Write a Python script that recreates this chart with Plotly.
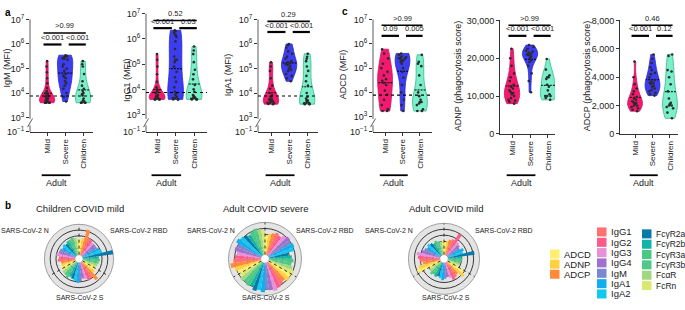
import numpy as np
import plotly.graph_objects as go

W, H = 685, 310
FONT = "Arial, 'Liberation Sans', sans-serif"

# ---------------- data: panels a and c ----------------
groups = ["Mild", "Severe", "Children"]
fill_colors = ["#F2196F", "#3C3CF0", "#7AEFC9"]
line_colors = ["#D0105A", "#2A2AC8", "#38B88C"]

igm_mild = [2e5, 1.2e5, 7e4, 4e4, 2.5e4, 1.6e4, 1.2e4, 1e4, 9e3, 8e3, 7.5e3, 7e3, 6.5e3, 6e3,
            5.5e3, 5e3, 5e3, 4.5e3, 4.5e3, 4.2e3, 4e3, 4e3, 4e3, 4e3, 4e3]
igm_severe = [3.5e5, 3.2e5, 3e5, 2.8e5, 2.6e5, 2.5e5, 2.3e5, 1.5e5, 1.2e5, 1e5, 8e4, 6e4, 5e4,
              4.5e4, 4e4, 3e4, 2.5e4, 2e4, 1.5e4, 1e4, 7e3, 4.5e3]
igm_children = [2e5, 1.5e5, 1.2e5, 6e4, 3e4, 2e4, 1.5e4, 1.2e4, 1e4, 9e3, 8e3, 6e3, 5e3, 4.5e3,
                4.2e3, 4e3, 4e3, 4e3, 4e3]

igg1_mild = [2.5e5, 1.5e5, 8e4, 4e4, 2e4, 1.2e4, 1e4, 9e3, 8e3, 7e3, 6e3, 5.5e3, 5e3, 5e3, 4.8e3,
             4.5e3, 4.5e3, 4.2e3, 4.2e3, 4e3, 4e3, 4e3, 4e3]
igg1_severe = [2.2e6, 2e6, 1.8e6, 1.5e6, 1.4e6, 1.2e6, 8e5, 4e5, 2e5, 1.5e5, 1.5e5, 1.2e5, 8e4,
               5e4, 3e4, 2e4, 1.2e4, 8e3, 7e3, 6e3, 5e3, 4.5e3, 4.5e3, 4e3, 4e3, 4e3]
igg1_children = [5e5, 3.5e5, 2.5e5, 1.2e5, 6e4, 4e4, 2.5e4, 1.5e4, 1e4, 8e3, 6e3, 5.5e3, 5e3,
                 5e3, 4.5e3, 4.5e3, 4.2e3, 4e3, 4e3, 4e3]

iga1_mild = [1.8e5, 1.2e5, 8e4, 4e4, 2e4, 1.5e4, 1e4, 8e3, 7e3, 6e3, 5.5e3, 5e3, 5e3, 4.5e3,
             4.5e3, 4e3, 4e3, 3.8e3, 3.6e3, 3.5e3]
iga1_severe = [1e6, 9e5, 7e5, 5e5, 4e5, 3e5, 2.5e5, 2e5, 1.8e5, 1.6e5, 1.5e5, 1.4e5, 1.2e5, 1e5,
               9e4, 8e4, 6e4, 5e4, 4e4, 3e4]
iga1_children = [4e5, 3e5, 2.5e5, 2e5, 1.2e5, 8e4, 5e4, 3e4, 2e4, 1e4, 7e3, 6e3, 5e3, 5e3, 4.5e3,
                 4e3, 4e3, 3.8e3, 3.6e3, 3.5e3, 3.5e3]

adcd_mild = [6e5, 4e5, 2.5e5, 1.5e5, 1e5, 7e4, 5e4, 3.5e4, 3e4, 2.5e4, 2e4, 1.2e4, 8e3, 5e3,
             3e3, 2e3, 1.7e3, 1.7e3]
adcd_severe = [4e5, 3.5e5, 3e5, 2.8e5, 2.6e5, 2.5e5, 2.4e5, 2.2e5, 2e5, 1.8e5, 1.5e5, 1e5, 7e4,
               4e4, 2e4, 1e4, 5e3, 3e3, 1.7e3]
adcd_children = [3.5e5, 1.8e5, 1.5e5, 1.2e5, 5e4, 2e4, 1e4, 7e3, 5e3, 4e3, 4e3, 3.5e3, 3e3, 2e3,
                 1.7e3, 1.7e3]

adnp_mild = [22500, 20000, 18000, 16000, 15000, 14000, 13000, 12500, 12000, 11500, 11000, 10800,
             10500, 10000, 9500, 9000, 8800, 8500, 8000]
adnp_severe = [23500, 23000, 22500, 22000, 21800, 21500, 21200, 21000, 20800, 20500, 20000,
               19500, 19000, 18000, 16000, 14000, 11000]
adnp_children = [19800, 17000, 15500, 15000, 15000, 14500, 13000, 12500, 11500, 10500, 10000,
                 10000, 10000, 9500, 9000]

adcp_mild = [5100, 4000, 3500, 3200, 3000, 2800, 2600, 2500, 2400, 2300, 2200, 2200, 2100, 2000,
             2000, 1900, 1800, 1700, 1600]
adcp_severe = [5600, 5300, 5000, 4700, 4500, 4300, 4200, 4000, 3800, 3700, 3600, 3600, 3500,
               3400, 3300, 3200, 3100, 3000, 2900, 2800, 2700]
adcp_children = [5600, 5500, 4500, 4400, 4000, 3500, 3000, 2500, 2200, 2100, 2000, 2000, 1900,
                 1800, 1500, 1100]

detection_limit = [7.5e3, 7.5e3, 7.5e3, 7.7e3]

p_igm = [">0.99", "<0.001", "<0.001"]
p_igg1 = ["0.52", "<0.001", "0.03"]
p_iga1 = ["0.29", "<0.001", "<0.001"]
p_adcd = [">0.99", "0.09", "0.005"]
p_adnp = [">0.99", "<0.001", "<0.001"]
p_adcp = ["0.46", "<0.001", "0.12"]

# ---------------- data: panel b ----------------
features = ["ADCD", "ADNP", "ADCP", "IgG1", "IgG2", "IgG3", "IgG4", "IgM", "IgA1", "IgA2",
            "FcγR2a", "FcγR2b", "FcγR3a", "FcγR3b", "FcαR", "FcRn"]
feature_colors = ["#FFEE70", "#FFD040", "#FF8A3A", "#FF7070", "#FF5A8C", "#E890D8", "#A070D0",
                  "#7A88D0", "#10AEF0", "#10C8F0", "#0A78A8", "#10B4A8", "#48C880", "#50C888",
                  "#A0D880", "#D8E870"]
antigens = ["SARS-CoV-2 RBD", "SARS-CoV-2 S", "SARS-CoV-2 N"]

children_rbd = [0.50, 0.55, 0.86, 0.62, 0.60, 0.55, 0.55, 0.55, 0.60, 0.65, 1.00, 0.52, 0.55, 0.52, 0.50, 0.48]
children_s = [0.48, 0.52, 0.75, 0.60, 0.64, 0.56, 0.52, 0.60, 0.65, 0.60, 0.55, 0.52, 0.60, 0.55, 0.55, 0.50]
children_n = [0.50, 0.46, 0.46, 0.56, 0.52, 0.62, 0.56, 0.55, 0.50, 0.55, 0.50, 0.55, 0.56, 0.60, 0.56, 0.52]

severe_rbd = [0.60, 0.65, 0.70, 0.75, 0.70, 0.80, 0.85, 0.80, 0.85, 0.80, 0.60, 0.70, 0.75, 0.70, 0.75, 0.85]
severe_s = [0.80, 0.85, 0.75, 0.80, 0.85, 0.90, 0.85, 0.80, 0.90, 0.85, 0.90, 0.80, 0.85, 0.80, 0.85, 0.75]
severe_n = [0.80, 0.85, 0.95, 0.85, 0.80, 0.75, 0.85, 0.80, 0.90, 0.85, 0.80, 0.75, 0.80, 0.85, 0.80, 0.75]

mild_rbd = [0.40, 0.45, 0.50, 0.55, 0.80, 0.55, 0.50, 0.45, 0.55, 0.50, 0.85, 0.45, 0.45, 0.40, 0.40, 0.35]
mild_s = [0.60, 0.70, 0.50, 0.55, 0.60, 0.50, 0.45, 0.50, 0.55, 0.50, 0.45, 0.50, 0.45, 0.50, 0.45, 0.40]
mild_n = [0.80, 0.70, 0.55, 0.65, 0.70, 0.75, 0.60, 0.55, 0.50, 0.55, 0.50, 0.45, 0.50, 0.45, 0.40, 0.45]


def px_x(x):
    return x / W


def px_y(y):
    return 1 - y / H


fig = go.Figure()
shapes = []
annotations = []

panels = [
    dict(title="IgM (MFI)", data=[igm_mild, igm_severe, igm_children], log=True, xpx=(30, 93),
         ypx=(13, 130), xr=(-0.95, 2.55), lo=2.41, p=p_igm, long_y=27, short_y=39, tpos=(7, 64)),
    dict(title="IgG1 (MFI)", data=[igg1_mild, igg1_severe, igg1_children], log=True, xpx=(146, 207),
         ypx=(7, 130), xr=(-0.6, 2.7), lo=2.31, p=p_igg1, long_y=14, short_y=22, tpos=(127, 76)),
    dict(title="IgA1 (MFI)", data=[iga1_mild, iga1_severe, iga1_children], log=True, xpx=(258, 318),
         ypx=(13, 130), xr=(-0.72, 2.6), lo=2.41, p=p_iga1, long_y=15, short_y=26, tpos=(228, 71)),
    dict(title="ADCD (MFI)", data=[adcd_mild, adcd_severe, adcd_children], log=True, xpx=(373, 432),
         ypx=(13, 130), xr=(-0.69, 2.69), lo=2.37, p=p_adcd, long_y=19, short_y=30, tpos=(343, 70)),
    dict(title="ADNP (phagocytosis score)", data=[adnp_mild, adnp_severe, adnp_children], log=False,
         xpx=(500, 555), ypx=(14, 132), xr=(-0.67, 2.39), top=30000, step=10000, p=p_adnp,
         long_y=19, short_y=30, tpos=(458, 72)),
    dict(title="ADCP (phagocytosis score)", data=[adcp_mild, adcp_severe, adcp_children], log=False,
         xpx=(620, 678), ypx=(14, 132), xr=(-0.86, 2.46), top=8000, step=2000, p=p_adcp,
         long_y=19, short_y=30, tpos=(587, 72)),
]

layout_axes = {}
for i, pn in enumerate(panels, start=1):
    xid = "x" if i == 1 else f"x{i}"
    yid = "y" if i == 1 else f"y{i}"
    xkey = "xaxis" if i == 1 else f"xaxis{i}"
    ykey = "yaxis" if i == 1 else f"yaxis{i}"
    for g, vals, fc, lc in zip(groups, pn["data"], fill_colors, line_colors):
        yv = np.log10(vals) if pn["log"] else np.array(vals, dtype=float)
        fig.add_trace(go.Violin(
            x=[g] * len(vals), y=yv, xaxis=xid, yaxis=yid, name=g, showlegend=False,
            fillcolor=fc, line=dict(color=lc, width=0.8), opacity=1,
            points="all", pointpos=0, jitter=0.55, spanmode="hard", width=0.85,
            scalemode="width",
            marker=dict(color="#2a2a2a", size=2.6, line=dict(width=0)),
            meanline=dict(visible=True, color="black", width=1),
            box=dict(visible=False), hoverinfo="skip"))

    layout_axes[xkey] = dict(
        domain=[px_x(pn["xpx"][0]), px_x(pn["xpx"][1])], anchor=yid, type="category",
        categoryorder="array", categoryarray=groups, range=list(pn["xr"]),
        showline=True, linecolor="#333", linewidth=0.8, ticks="outside", ticklen=3,
        tickcolor="#333", tickwidth=0.8, tickangle=-90, tickfont=dict(size=8, family=FONT,
                                                                       color="#222"),
        showgrid=False, zeroline=False, fixedrange=True)
    if pn["log"]:
        lo = pn["lo"]
        ytickv = [lo, 3, 4, 5, 6, 7]
        ytickt = ["10<sup>−1</sup>"] + [f"10<sup>{k}</sup>" for k in range(3, 8)]
        layout_axes[ykey] = dict(
            domain=[px_y(pn["ypx"][1]), px_y(pn["ypx"][0])], anchor=xid, range=[lo, 7],
            tickvals=ytickv, ticktext=ytickt, showline=False, ticks="outside", ticklen=3,
            tickcolor="#333", tickwidth=0.8, tickfont=dict(size=9, family=FONT, color="#222"),
            showgrid=False, zeroline=False, fixedrange=True)
        ax = pn["xpx"][0]
        ytop, ybot = pn["ypx"]
        # broken y axis
        shapes.append(dict(type="line", xref="paper", yref="paper", x0=px_x(ax), x1=px_x(ax),
                           y0=px_y(ytop), y1=px_y(116.5), line=dict(color="#333", width=0.8)))
        shapes.append(dict(type="line", xref="paper", yref="paper", x0=px_x(ax), x1=px_x(ax),
                           y0=px_y(123), y1=px_y(ybot), line=dict(color="#333", width=0.8)))
        shapes.append(dict(type="line", xref="paper", yref="paper", x0=px_x(ax - 2.5),
                           x1=px_x(ax + 2.5), y0=px_y(125), y1=px_y(116),
                           line=dict(color="#333", width=0.8)))
        # detection limit
        shapes.append(dict(type="line", xref=f"{xid} domain", yref=yid, x0=0, x1=1,
                           y0=float(np.log10(detection_limit[i - 1])),
                           y1=float(np.log10(detection_limit[i - 1])),
                           line=dict(color="black", width=1.1, dash="dot")))
    else:
        top = pn["top"]
        layout_axes[ykey] = dict(
            domain=[px_y(pn["ypx"][1]), px_y(pn["ypx"][0])], anchor=xid, range=[0, top],
            tickvals=list(range(0, top + 1, pn["step"])), tickformat=",d",
            showline=True, linecolor="#333", linewidth=0.8, ticks="outside", ticklen=3,
            tickcolor="#333", tickwidth=0.8, tickfont=dict(size=9, family=FONT, color="#222"),
            showgrid=False, zeroline=False, fixedrange=True)

    # y title
    annotations.append(dict(xref="paper", yref="paper", x=px_x(pn["tpos"][0]),
                            y=px_y(pn["tpos"][1]), text=pn["title"], textangle=-90,
                            showarrow=False, font=dict(size=9, family=FONT, color="#222"),
                            xanchor="center", yanchor="middle"))
    # significance brackets
    brs = [(-0.2, 2.15, pn["long_y"], pn["p"][0], 1.6),
           (-0.2, 0.8, pn["short_y"], pn["p"][1], 2.2),
           (1.2, 2.15, pn["short_y"], pn["p"][2], 2.2)]
    for x0, x1, yy, txt, lw in brs:
        shapes.append(dict(type="line", xref=xid, yref="paper", x0=x0, x1=x1,
                           y0=px_y(yy), y1=px_y(yy), line=dict(color="black", width=lw)))
        annotations.append(dict(xref=xid, yref="paper", x=(x0 + x1) / 2, y=px_y(yy - 0.5),
                                text=txt, showarrow=False, xanchor="center", yanchor="bottom",
                                font=dict(size=7.5, family=FONT, color="#222")))
    # Adult grouping
    shapes.append(dict(type="line", xref=xid, yref="paper", x0=-0.3, x1=1.3,
                       y0=px_y(175), y1=px_y(175), line=dict(color="black", width=1.8)))
    annotations.append(dict(xref=xid, yref="paper", x=0.5, y=px_y(183), text="Adult",
                            showarrow=False, xanchor="center", yanchor="middle",
                            font=dict(size=9, family=FONT, color="#222")))

# panel letters
for letter, lx, ly in [("a", 3, 6), ("c", 340, 5), ("b", 3, 206)]:
    annotations.append(dict(xref="paper", yref="paper", x=px_x(lx), y=px_y(ly), text=f"<b>{letter}</b>",
                            showarrow=False, xanchor="left", yanchor="middle",
                            font=dict(size=10, family=FONT, color="black")))

# ---------------- panel b: polar charts ----------------
radar_sets = [
    ("Children COVID mild", [children_rbd, children_s, children_n], (79, 262, 36), 48, 108, 80),
    ("Adult COVID severe", [severe_rbd, severe_s, severe_n], (265, 262, 38), 237, 294, 266),
    ("Adult COVID mild", [mild_rbd, mild_s, mild_n], (444, 262, 37), 415, 473, 446),
]
n_feat = len(features)
step_deg = 360 / (n_feat * len(antigens))
for k, (title, series, (cx, cy, rad), n_right, rbd_left, s_center) in enumerate(radar_sets, start=1):
    pid = "polar" if k == 1 else f"polar{k}"
    rvals = [v for s in series for v in s]
    thetas = [step_deg * (j + 0.5) for j in range(len(rvals))]
    fig.add_trace(go.Barpolar(r=rvals, theta=thetas, width=[step_deg] * len(rvals),
                              marker=dict(color=feature_colors * len(antigens), line=dict(width=0)),
                              subplot=pid, showlegend=False, hoverinfo="skip"))
    bth = []
    br = []
    for a in range(len(antigens)):
        bth += [a * 120, a * 120, None]
        br += [0, 1, None]
    fig.add_trace(go.Scatterpolar(r=br, theta=bth, mode="lines", subplot=pid, showlegend=False,
                                  line=dict(color="#222", width=0.9, dash="dot"), hoverinfo="skip"))
    layout_axes[pid] = dict(
        domain=dict(x=[px_x(cx - rad), px_x(cx + rad)], y=[px_y(cy + rad), px_y(cy - rad)]),
        bgcolor="#E4E4E4", hole=0.12,
        radialaxis=dict(range=[0, 1], tickvals=[0.22, 0.42, 0.62, 0.81], showticklabels=False,
                        ticks="", showline=False, gridcolor="#3a3a3a", gridwidth=0.7,
                        layer="below traces"),
        angularaxis=dict(direction="clockwise", rotation=90, showticklabels=False, ticks="",
                         showgrid=False, linecolor="#a0a0a0", linewidth=1, layer="below traces"))
    annotations.append(dict(xref="paper", yref="paper", x=px_x(s_center), y=px_y(210), text=title,
                            showarrow=False, xanchor="center", yanchor="middle",
                            font=dict(size=9.5, family=FONT, color="#222")))
    annotations.append(dict(xref="paper", yref="paper", x=px_x(max(n_right, 51)), y=px_y(232),
                            text=antigens[2], showarrow=False, xanchor="right", yanchor="middle",
                            font=dict(size=7, family=FONT, color="#222")))
    annotations.append(dict(xref="paper", yref="paper", x=px_x(rbd_left), y=px_y(232), text=antigens[0],
                            showarrow=False, xanchor="left", yanchor="middle",
                            font=dict(size=7, family=FONT, color="#222")))
    annotations.append(dict(xref="paper", yref="paper", x=px_x(s_center), y=px_y(302), text=antigens[1],
                            showarrow=False, xanchor="center", yanchor="middle",
                            font=dict(size=7, family=FONT, color="#222")))

# legend for panel b
legend_cols = [
    (550, [257, 267.5, 278], 9.5),
    (597, [234, 244.8, 255.5, 266.2, 277, 287.8, 298.5], 9.5),
    (642, [236, 246.8, 257.5, 268.2, 279, 289.8], 8.5),
]
fi = 0
for sx, rows, fs in legend_cols:
    for ry in rows:
        shapes.append(dict(type="rect", xref="paper", yref="paper", x0=px_x(sx), x1=px_x(sx + 9.5),
                           y0=px_y(ry + 4.7), y1=px_y(ry - 4.7), fillcolor=feature_colors[fi],
                           line=dict(width=0)))
        annotations.append(dict(xref="paper", yref="paper", x=px_x(sx + 12), y=px_y(ry),
                                text=features[fi], showarrow=False, xanchor="left", yanchor="middle",
                                font=dict(size=fs, family=FONT, color="#222")))
        fi += 1

fig.update_layout(
    width=W, height=H, margin=dict(l=0, r=0, t=0, b=0),
    paper_bgcolor="white", plot_bgcolor="white", showlegend=False,
    font=dict(family=FONT, size=9, color="#222"),
    violinmode="overlay", shapes=shapes, annotations=annotations, **layout_axes)

fig.write_html("out.html", config={"displayModeBar": False},
               post_script="document.body.style.margin='0px';document.body.style.overflow='hidden';")
